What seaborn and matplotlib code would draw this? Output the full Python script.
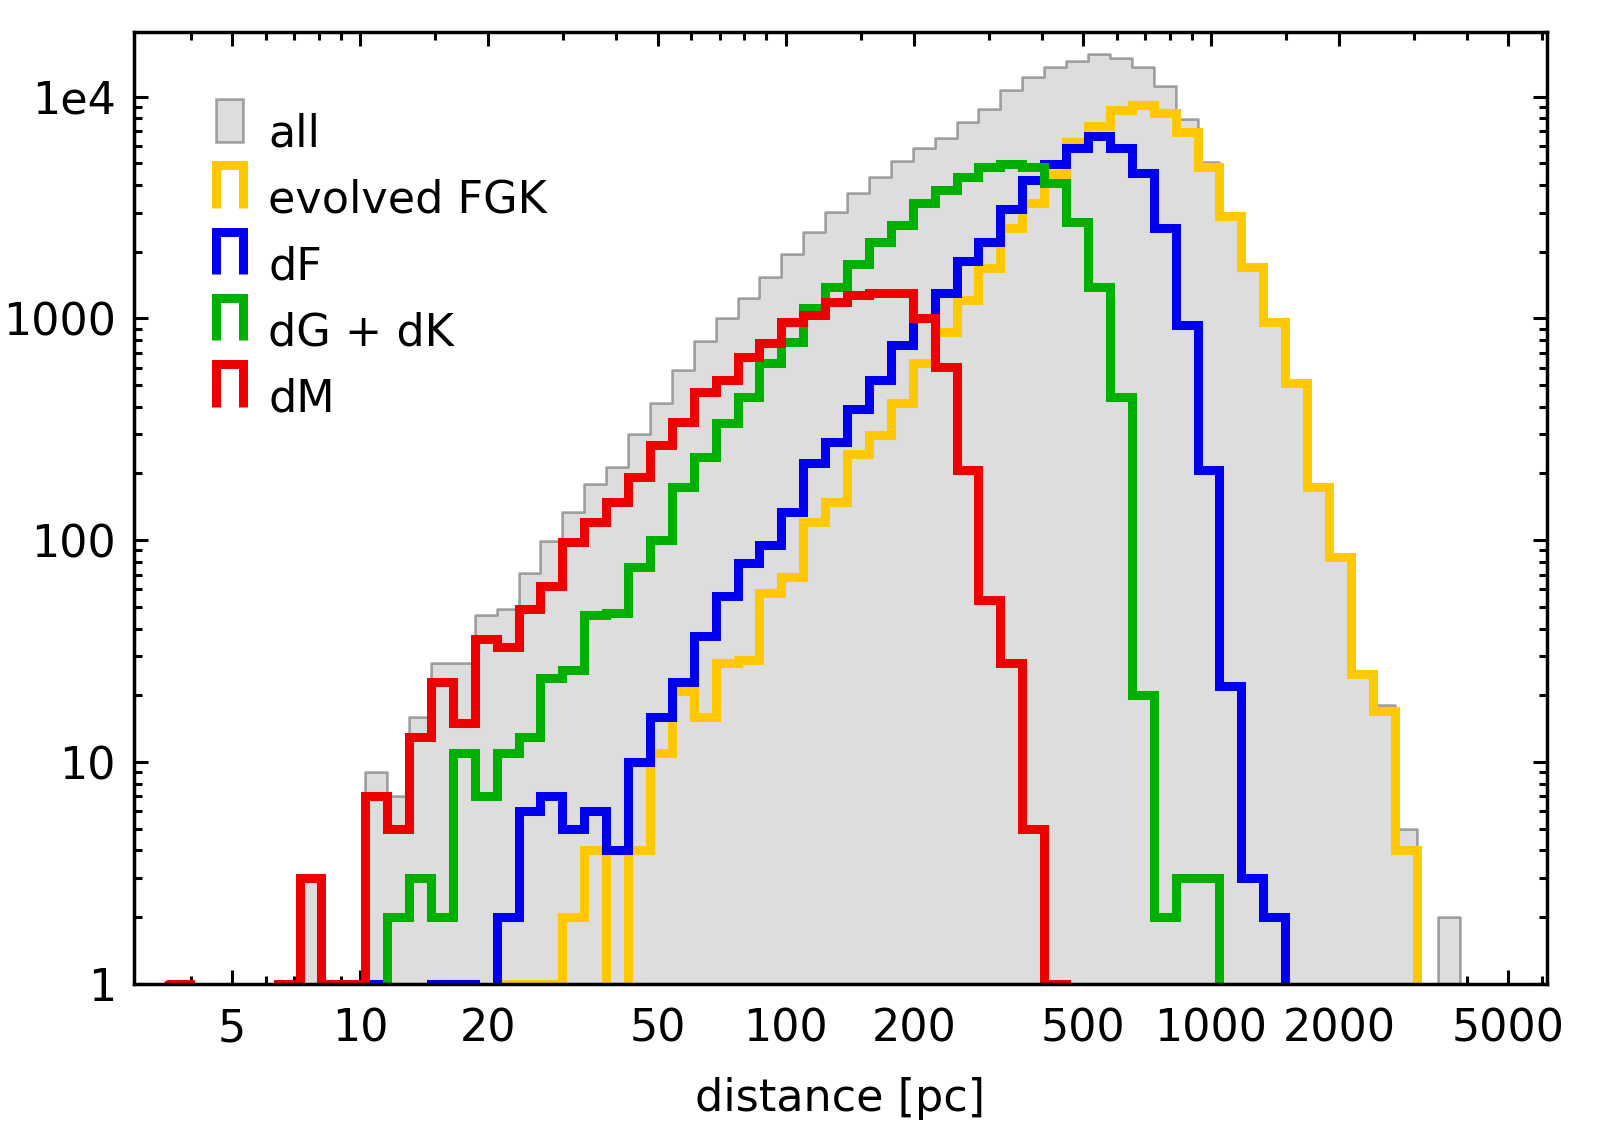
import numpy as np
import pandas as pd
import matplotlib
matplotlib.use("Agg")
import matplotlib.pyplot as plt
import seaborn as sns
from matplotlib.legend_handler import HandlerBase
from matplotlib.lines import Line2D
from matplotlib.patches import Patch, Rectangle
from matplotlib.ticker import FixedLocator, FixedFormatter, NullFormatter

# ---------------- data (counts per logarithmic distance bin) ----------------
LOG_START = 0.5485   # log10 of the first bin edge [pc]
LOG_STEP = 0.05148   # bin width in dex
N_BINS = 63

counts_all = [1, 0, 0, 0, 0, 1, 3, 1, 1, 9,
              7, 16, 28, 28, 46, 49, 71, 99, 134, 180,
              214, 300, 417, 585, 791, 1000, 1233, 1543, 1951, 2460,
              3012, 3690, 4355, 5146, 5890, 6490, 7710, 8770, 10720, 12300,
              13650, 14530, 15560, 14900, 13650, 11100, 7910, 5050, 2925, 1705,
              968, 512, 176, 85, 25, 18, 5, 0, 2, 1,
              1, 0, 1]
counts_evolved = [0, 0, 0, 0, 0, 0, 0, 0, 0, 0,
                  0, 0, 0, 0, 0, 1, 1, 1, 2, 4,
                  0, 4, 11, 21, 16, 28, 29, 58, 68, 121,
                  149, 246, 298, 414, 627, 871, 1215, 1683, 2550, 3325,
                  4480, 6270, 7330, 8710, 9160, 8470, 6950, 4810, 2900, 1702,
                  966, 510, 174, 84, 25, 17, 4, 0, 0, 0,
                  0, 0, 0]
counts_dF = [0, 0, 0, 0, 0, 0, 0, 0, 0, 1,
             0, 0, 1, 1, 0, 2, 6, 7, 5, 6,
             4, 10, 16, 23, 37, 56, 79, 95, 134, 222,
             278, 390, 527, 759, 1000, 1306, 1815, 2219, 3100, 4200,
             4980, 5850, 6655, 5850, 4510, 2550, 934, 207, 22, 3,
             2, 0, 0, 0, 0, 0, 0, 0, 0, 0,
             0, 0, 0]
counts_dGK = [0, 0, 0, 0, 0, 0, 0, 0, 0, 0,
              2, 3, 2, 11, 7, 11, 13, 24, 26, 46,
              47, 76, 100, 174, 238, 337, 444, 627, 785, 1112,
              1391, 1760, 2219, 2637, 3310, 3800, 4340, 4805, 4970, 4805,
              4066, 2730, 1391, 444, 20, 2, 3, 3, 0, 0,
              0, 0, 0, 0, 0, 0, 0, 0, 0, 0,
              0, 0, 0]
counts_dM = [1, 0, 0, 0, 0, 1, 3, 1, 1, 7,
             5, 13, 23, 15, 36, 33, 49, 62, 98, 121,
             149, 193, 269, 342, 467, 527, 671, 772, 966, 1036,
             1189, 1270, 1306, 1306, 1000, 606, 207, 54, 28, 5,
             1, 0, 0, 0, 0, 0, 0, 0, 0, 0,
             0, 0, 0, 0, 0, 0, 0, 0, 0, 0,
             0, 0, 0]

groups = ["all", "evolved FGK", "dF", "dG + dK", "dM"]
group_counts = [counts_all, counts_evolved, counts_dF, counts_dGK, counts_dM]
group_colors = ["#dddddd", "#ffc800", "#0000ee", "#00b000", "#ee0000"]

x_ticks = [5, 10, 20, 50, 100, 200, 500, 1000, 2000, 5000]
x_ticklabels = ["5", "10", "20", "50", "100", "200", "500", "1000", "2000", "5000"]
x_minor = [4, 6, 7, 8, 9, 15, 30, 40, 60, 70, 80, 90, 150, 300, 400,
           600, 700, 800, 900, 1500, 3000, 4000, 6000]
y_ticks = [1, 10, 100, 1000, 10000]
y_ticklabels = ["1", "10", "100", "1000", "1e4"]
y_minor = [m * 10 ** e for e in range(0, 5) for m in range(2, 10)]

# ---------------- table ----------------
log_edges = [LOG_START + LOG_STEP * i for i in range(N_BINS + 1)]
centers = [10 ** (0.5 * (a + b)) for a, b in zip(log_edges[:-1], log_edges[1:])]
frames = []
for g, c in zip(groups, group_counts):
    frames.append(pd.DataFrame({"group": g, "distance": centers, "count": c}))
df = pd.concat(frames, ignore_index=True)

# ---------------- style ----------------
sns.set_style("ticks")
plt.rcParams["font.family"] = ["DejaVu Sans"]
plt.rcParams["text.color"] = "black"
plt.rcParams["axes.labelcolor"] = "black"
plt.rcParams["xtick.color"] = "black"
plt.rcParams["ytick.color"] = "black"

FS = 32
fig = plt.figure(figsize=(16.11, 11.28), dpi=100)
ax = fig.add_axes([0.0832, 0.1277, 0.9601 - 0.0832, 0.9719 - 0.1277])

# "all": filled grey histogram
sns.histplot(data=df[df["group"] == "all"], x="distance", weights="count",
             bins=log_edges, log_scale=True, element="step", fill=True,
             facecolor="#dddddd", edgecolor=(0, 0, 0, 0.33), linewidth=1.9,
             ax=ax)

for g, col in zip(groups[1:], group_colors[1:]):
    sns.histplot(data=df[df["group"] == g], x="distance", weights="count",
                 bins=log_edges, log_scale=True, element="step", fill=False,
                 color=col, linewidth=6.5, solid_joinstyle="miter", ax=ax)

ax.set_yscale("log")
ax.set_xlim(2.94, 6150)
ax.set_ylim(1, 1.96e4)

# ticks
ax.xaxis.set_major_locator(FixedLocator(x_ticks))
ax.xaxis.set_major_formatter(FixedFormatter(x_ticklabels))
ax.xaxis.set_minor_locator(FixedLocator(x_minor))
ax.xaxis.set_minor_formatter(NullFormatter())
ax.yaxis.set_major_locator(FixedLocator(y_ticks))
ax.yaxis.set_major_formatter(FixedFormatter(y_ticklabels))
ax.yaxis.set_minor_locator(FixedLocator(y_minor))
ax.yaxis.set_minor_formatter(NullFormatter())
ax.tick_params(which="both", direction="in", top=True, right=True,
               width=2.2, labelsize=FS)
ax.tick_params(which="major", length=10)
ax.tick_params(which="minor", length=5.5)
ax.tick_params(axis="x", which="major", pad=17)
ax.tick_params(axis="y", which="major", pad=13)
for s in ax.spines.values():
    s.set_linewidth(2.5)
    s.set_color("black")

ax.set_xlabel("distance [pc]", fontsize=FS, labelpad=19)
ax.set_ylabel("")

# legend with "cap" shaped handles, raised a little relative to the text
RAISE = 0.25

class HandlerCap(HandlerBase):
    def create_artists(self, legend, orig_handle, xdescent, ydescent,
                       width, height, fontsize, trans):
        x0 = -xdescent
        x1 = x0 + width
        y0 = -ydescent + RAISE * fontsize
        y1 = y0 + height
        line = Line2D([x0, x0, x1, x1], [y0, y1, y1, y0])
        self.update_prop(line, orig_handle, legend)
        line.set_solid_joinstyle("miter")
        line.set_solid_capstyle("butt")
        line.set_transform(trans)
        return [line]

class HandlerBox(HandlerBase):
    def create_artists(self, legend, orig_handle, xdescent, ydescent,
                       width, height, fontsize, trans):
        p = Rectangle((-xdescent, -ydescent + RAISE * fontsize), width, height)
        self.update_prop(p, orig_handle, legend)
        p.set_transform(trans)
        return [p]

h_all = Patch(facecolor="#dddddd", edgecolor=(0, 0, 0, 0.33), linewidth=1.9)
handles = [h_all]
hmap = {h_all: HandlerBox()}
for col in group_colors[1:]:
    h = Line2D([], [], color=col, linewidth=6.5)
    handles.append(h)
    hmap[h] = HandlerCap()

ax.legend(handles, groups, handler_map=hmap, loc="upper left",
          bbox_to_anchor=(0.0577, 0.9175), frameon=False, fontsize=FS,
          handlelength=0.62, handleheight=1.095, handletextpad=0.57,
          labelspacing=0.47, borderpad=0, borderaxespad=0)

fig.savefig("out.png", dpi=100)
